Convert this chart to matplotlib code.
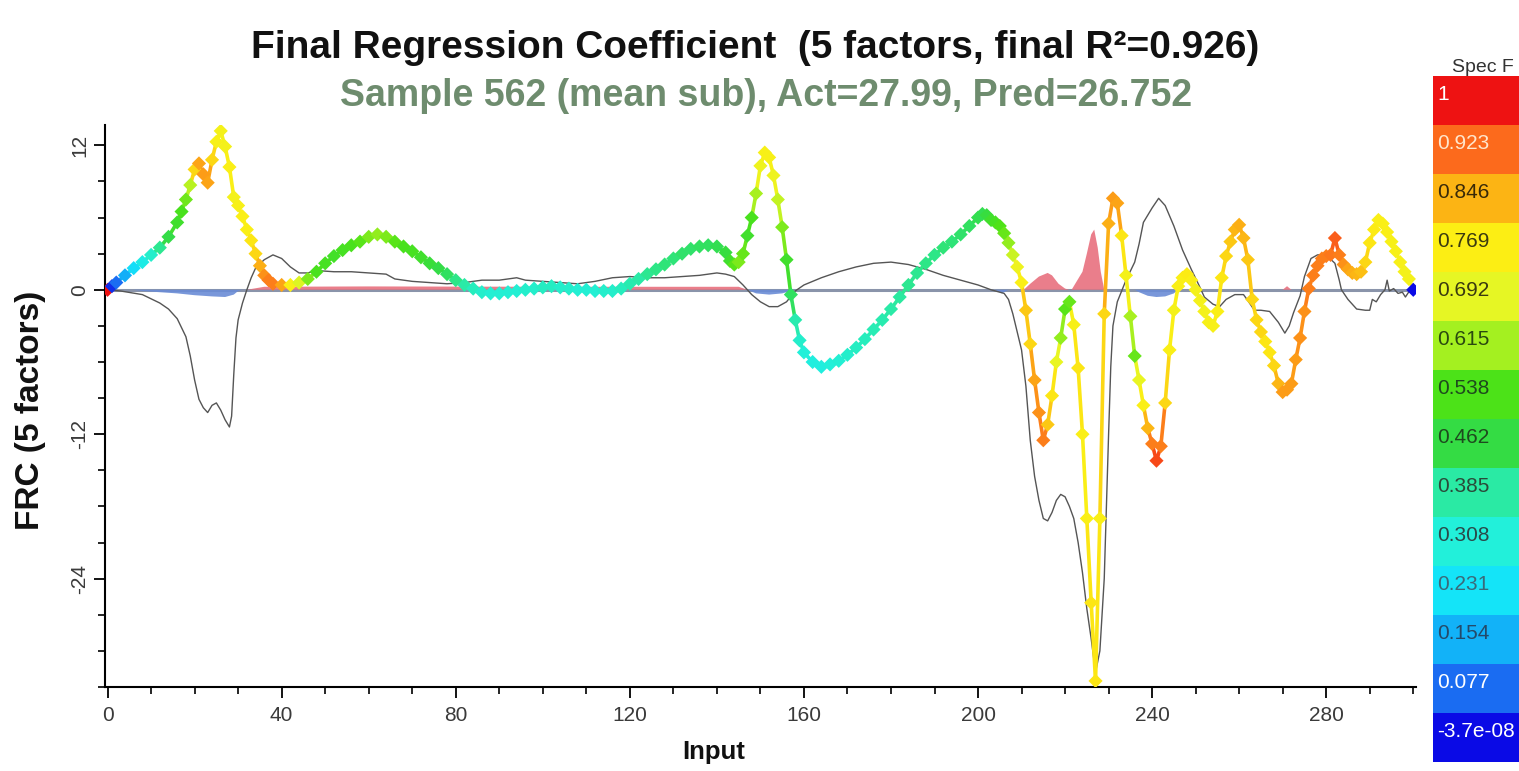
import matplotlib.pyplot as plt
import numpy as np
from matplotlib.collections import LineCollection
from matplotlib.colors import LinearSegmentedColormap

plt.rcParams['font.family'] = ['Liberation Sans', 'DejaVu Sans']
plt.rcParams['axes.unicode_minus'] = False

# Coefficient de régression final (courbe colorée par Spec F)
frc_x = [0, 1, 2, 4, 6, 8, 10, 12, 14, 16, 17, 18, 19, 20, 21, 22, 23, 24, 25, 26,
         27, 28, 29, 30, 31, 32, 33, 34, 35, 36, 37, 38, 40, 42, 44, 46, 48, 50, 52, 54,
         56, 58, 60, 62, 64, 66, 68, 70, 72, 74, 76, 78, 80, 82, 84, 86, 88, 90, 92, 94,
         96, 98, 100, 102, 104, 106, 108, 110, 112, 114, 116, 118, 120, 122, 124, 126, 128, 130, 132, 134,
         136, 138, 140, 142, 143, 144, 145, 146, 147, 148, 149, 150, 151, 152, 153, 154, 155, 156, 157, 158,
         159, 160, 162, 164, 166, 168, 170, 172, 174, 176, 178, 180, 182, 184, 186, 188, 190, 192, 194, 196,
         198, 200, 201, 202, 203, 204, 205, 206, 207, 208, 209, 210, 211, 212, 213, 214, 215, 216, 217, 218,
         219, 220, 221, 222, 223, 224, 225, 226, 227, 228, 229, 230, 231, 232, 233, 234, 235, 236, 237, 238,
         239, 240, 241, 242, 243, 244, 245, 246, 247, 248, 249, 250, 251, 252, 253, 254, 255, 256, 257, 258,
         259, 260, 261, 262, 263, 264, 265, 266, 267, 268, 269, 270, 271, 272, 273, 274, 275, 276, 277, 278,
         279, 280, 281, 282, 283, 284, 285, 286, 287, 288, 289, 290, 291, 292, 293, 294, 295, 296, 297, 298,
         299, 300]
frc_y = [0.0, 0.3, 0.6, 1.2, 1.8, 2.3, 2.9, 3.5, 4.4, 5.6, 6.5, 7.5, 8.7, 10.0, 10.5, 9.6, 8.9, 10.8, 12.3, 13.2,
         11.9, 10.2, 7.7, 7.0, 6.1, 5.0, 4.1, 3.0, 2.0, 1.2, 0.8, 0.5, 0.4, 0.4, 0.6, 0.9, 1.5, 2.2, 2.8, 3.3,
         3.7, 4.0, 4.4, 4.6, 4.4, 4.0, 3.6, 3.2, 2.7, 2.2, 1.8, 1.3, 0.8, 0.4, 0.1, -0.2, -0.3, -0.3, -0.2, -0.1,
         0.0, 0.1, 0.2, 0.3, 0.2, 0.1, 0.0, 0.0, -0.1, -0.1, -0.1, 0.1, 0.5, 0.9, 1.3, 1.7, 2.1, 2.6, 3.0, 3.4,
         3.6, 3.7, 3.6, 3.1, 2.4, 2.1, 2.3, 3.0, 4.5, 6.0, 8.0, 10.3, 11.4, 11.0, 9.5, 7.5, 5.2, 2.5, -0.4, -2.5,
         -4.2, -5.2, -6.0, -6.4, -6.2, -5.9, -5.4, -4.8, -4.1, -3.3, -2.5, -1.6, -0.6, 0.4, 1.4, 2.2, 2.9, 3.5, 4.0, 4.6,
         5.3, 6.0, 6.3, 6.2, 5.8, 5.6, 5.3, 4.7, 3.9, 2.9, 1.9, 0.6, -1.7, -4.5, -7.5, -10.2, -12.5, -11.2, -8.8, -6.0,
         -4.0, -1.6, -1.0, -2.9, -6.5, -12.0, -19.0, -26.0, -32.5, -19.0, -2.0, 5.5, 7.6, 7.2, 4.5, 1.2, -2.2, -5.5, -7.5, -9.6,
         -11.5, -12.8, -14.2, -13.0, -9.4, -5.0, -1.7, 0.3, 1.0, 1.3, 0.8, 0.0, -0.9, -1.8, -2.7, -3.0, -1.8, 1.0, 2.8, 4.0,
         5.0, 5.4, 4.3, 2.5, -0.8, -2.5, -3.5, -4.3, -5.2, -6.3, -7.8, -8.5, -8.3, -7.8, -5.8, -4.0, -1.8, 0.1, 1.2, 2.0,
         2.6, 2.8, 2.9, 4.3, 2.9, 2.1, 1.7, 1.4, 1.3, 1.5, 2.3, 3.9, 5.0, 5.8, 5.5, 4.8, 4.0, 3.2, 2.3, 1.5,
         0.9, 0.0]
spec_f = [1.0, 0.03, 0.08, 0.15, 0.22, 0.28, 0.33, 0.4, 0.46, 0.5, 0.53, 0.57, 0.64, 0.8, 0.86, 0.87, 0.86, 0.8, 0.75, 0.74,
          0.74, 0.76, 0.74, 0.75, 0.76, 0.76, 0.78, 0.8, 0.85, 0.88, 0.9, 0.9, 0.86, 0.76, 0.68, 0.58, 0.53, 0.52, 0.51, 0.52,
          0.53, 0.55, 0.58, 0.6, 0.58, 0.55, 0.53, 0.52, 0.5, 0.48, 0.46, 0.44, 0.41, 0.38, 0.35, 0.33, 0.32, 0.32, 0.32, 0.32,
          0.33, 0.33, 0.34, 0.34, 0.33, 0.33, 0.32, 0.32, 0.32, 0.33, 0.33, 0.35, 0.37, 0.38, 0.4, 0.41, 0.42, 0.42, 0.43, 0.43,
          0.44, 0.44, 0.45, 0.47, 0.5, 0.55, 0.58, 0.56, 0.5, 0.53, 0.62, 0.72, 0.75, 0.75, 0.72, 0.65, 0.58, 0.5, 0.44, 0.37,
          0.33, 0.31, 0.3, 0.3, 0.31, 0.32, 0.33, 0.34, 0.35, 0.36, 0.37, 0.38, 0.39, 0.4, 0.4, 0.41, 0.41, 0.42, 0.42, 0.43,
          0.44, 0.45, 0.45, 0.47, 0.5, 0.52, 0.54, 0.56, 0.6, 0.66, 0.72, 0.76, 0.82, 0.8, 0.86, 0.88, 0.9, 0.82, 0.78, 0.7,
          0.6, 0.55, 0.56, 0.75, 0.78, 0.76, 0.76, 0.78, 0.78, 0.76, 0.8, 0.85, 0.87, 0.86, 0.78, 0.74, 0.62, 0.56, 0.7, 0.76,
          0.84, 0.9, 0.95, 0.9, 0.8, 0.76, 0.74, 0.76, 0.76, 0.77, 0.76, 0.74, 0.74, 0.74, 0.75, 0.75, 0.76, 0.78, 0.8, 0.82,
          0.84, 0.85, 0.84, 0.82, 0.8, 0.8, 0.8, 0.78, 0.78, 0.8, 0.84, 0.87, 0.87, 0.87, 0.87, 0.88, 0.88, 0.9, 0.9, 0.9,
          0.9, 0.9, 0.91, 0.93, 0.9, 0.88, 0.86, 0.85, 0.84, 0.83, 0.8, 0.78, 0.77, 0.76, 0.76, 0.76, 0.75, 0.75, 0.75, 0.74,
          0.74, 0.0]

# Spectre de l'échantillon 562 (moyenne soustraite)
sample_x = [0, 3, 8, 12, 14, 16, 18, 19, 20, 21, 22, 23, 24, 25, 26, 27, 28, 28.5, 29, 29.5,
            30, 31, 32, 33, 34, 36, 38, 40, 42, 44, 46, 48, 52, 56, 60, 64, 66, 70, 74, 78,
            82, 86, 90, 94, 96, 100, 104, 108, 112, 116, 120, 124, 128, 132, 136, 140, 142, 144, 146, 148,
            150, 152, 154, 156, 158, 160, 164, 168, 172, 176, 180, 184, 188, 192, 196, 200, 203, 206, 207, 208,
            209, 210, 211, 212, 213, 214, 215, 216, 217, 218, 219, 220, 221, 222, 223, 224, 225, 226, 227, 228,
            229, 229.5, 230, 230.5, 231, 232, 234, 236, 237, 238, 240, 241.5, 243, 245, 247, 249, 251, 252, 254, 255.5,
            257, 259, 261, 262, 263.5, 265, 267, 269, 270.5, 271.5, 272.5, 274, 275, 276.5, 278, 280, 282, 283, 283.5, 285,
            287, 289, 290, 290.6, 291.5, 292.5, 293.5, 294, 294.5, 295.5, 296.5, 297.5, 298.2, 299.3]
sample_y = [0.0, -0.1, -0.4, -1.1, -1.6, -2.4, -3.9, -5.5, -7.5, -9.1, -9.8, -10.2, -9.6, -9.4, -10.0, -10.8, -11.4, -10.5, -7.0, -4.0,
            -2.5, -1.1, 0.0, 1.0, 1.8, 2.5, 2.9, 2.6, 1.9, 1.4, 1.4, 1.6, 1.5, 1.5, 1.4, 1.3, 0.9, 0.7, 0.6, 0.5,
            0.6, 0.8, 0.8, 1.0, 0.8, 0.7, 0.6, 0.5, 0.7, 1.0, 1.1, 1.0, 1.0, 1.1, 1.2, 1.4, 1.3, 1.1, 0.4, -0.4,
            -1.0, -1.4, -1.4, -1.0, -0.1, 0.4, 1.0, 1.5, 1.9, 2.2, 2.3, 2.1, 1.7, 1.2, 0.8, 0.4, 0.0, -0.3, -0.8, -2.0,
            -3.5, -5.0, -8.0, -12.5, -15.5, -17.5, -19.0, -19.2, -18.5, -17.5, -17.0, -17.2, -18.0, -19.0, -21.0, -23.5, -26.5, -29.0, -31.8, -30.0,
            -24.0, -18.0, -12.0, -6.4, -3.0, -1.0, 0.8, 2.3, 3.8, 5.6, 6.8, 7.6, 7.0, 5.3, 3.3, 1.7, 0.2, -0.6, -1.2, -1.4,
            -0.8, -0.4, -0.4, -0.9, -1.7, -1.7, -1.8, -2.7, -3.6, -3.0, -1.9, -0.5, 1.1, 2.6, 2.9, 2.9, 2.2, 0.8, 0.0, -0.8,
            -1.6, -1.7, -1.7, -0.8, -1.0, -0.4, 0.0, 0.8, -0.1, 0.1, -0.3, -0.2, -0.6, 0.0]

# Contribution (coefficient x échantillon)
contrib_x = [0, 6, 8, 12, 16, 20, 24, 27, 29, 30, 31, 32, 36, 60, 100, 145, 147, 149, 152, 155,
             158, 204, 205.5, 207, 210.5, 212, 214, 216, 217, 218.5, 220, 221, 221.5, 222.5, 224, 225, 226, 226.7, 227.5, 228.2,
             229, 236, 237, 239, 241, 243, 245, 246, 270, 271, 272, 300]
contrib_y = [0, 0, -0.1, -0.2, -0.3, -0.45, -0.55, -0.6, -0.4, -0.1, 0, 0, 0.25, 0.28, 0.25, 0.25, 0, -0.3, -0.4, -0.3,
             0, 0, -0.3, 0, 0, 0.5, 1.1, 1.4, 1.2, 0.5, 0.1, 0, 0, 0.6, 1.5, 3.0, 4.6, 5.0, 3.5, 1.5,
             0, 0, -0.2, -0.5, -0.6, -0.55, -0.3, 0, 0, 0.3, 0, 0]

# Légende Spec F
cbar_labels = ['-3.7e-08', '0.077', '0.154', '0.231', '0.308', '0.385', '0.462',
               '0.538', '0.615', '0.692', '0.769', '0.846', '0.923', '1']
cbar_colors = ['#0a0ae6', '#1a6cf2', '#12b2f8', '#14e4f8', '#22f0da', '#2aeaa4', '#34dc44',
               '#4ce218', '#a4f020', '#e6f624', '#fcee14', '#fcb414', '#fc6a1c', '#ee1212']
cbar_text = ['white', 'white', '#244a6a', '#3a6a7a', '#2a4a4a', '#2a4a3a', '#1e4a1e',
             '#1e4a1e', '#2a4a10', '#3a3a10', '#3a3a10', '#3a2a08', '#ffe6cc', 'white']

cmap = LinearSegmentedColormap.from_list('specf', list(zip(np.linspace(0, 1, 14), cbar_colors)))

fig = plt.figure(figsize=(15.19, 7.71), dpi=100)
ax = fig.add_axes([0.0691, 0.109, 0.863, 0.729])

# ligne de base + contributions
ax.axhline(0, color='#8a94aa', lw=2.2, zorder=1)
cx = np.array(contrib_x)
cy = np.array(contrib_y)
ax.fill_between(cx, cy, 0, where=cy >= 0, interpolate=True, color='#e8707e', alpha=0.9, lw=0, zorder=2)
ax.fill_between(cx, cy, 0, where=cy <= 0, interpolate=True, color='#6a8cd6', alpha=0.9, lw=0, zorder=2)

# spectre échantillon
ax.plot(sample_x, sample_y, color='#555555', lw=1.0, zorder=3)

# courbe FRC colorée
x = np.array(frc_x)
y = np.array(frc_y)
c = np.array(spec_f)
segs = np.stack([np.column_stack([x[:-1], y[:-1]]), np.column_stack([x[1:], y[1:]])], axis=1)
seg_c = np.maximum(c[:-1], c[1:])
seg_c[0] = c[1]
seg_c[-1] = c[-2]
lc = LineCollection(segs, colors=cmap(seg_c), linewidths=2.6, zorder=4)
ax.add_collection(lc)
ax.scatter(x, y, c=cmap(c), marker='D', s=52, edgecolors='none', zorder=5)

ax.set_xlim(-0.6, 300.6)
ax.set_ylim(-33, 13.7)
ax.set_xticks(range(0, 281, 40))
ax.set_xticks(range(0, 301, 10), minor=True)
ax.set_yticks([-24, -12, 0, 12])
ax.set_yticks(range(-33, 13, 3), minor=True)
ax.spines['top'].set_visible(False)
ax.spines['right'].set_visible(False)
ax.spines['left'].set_linewidth(1.5)
ax.spines['bottom'].set_linewidth(1.5)
ax.tick_params(which='major', direction='out', length=8, width=1.3, labelsize=15, labelcolor='#3a3a3a')
ax.tick_params(which='minor', direction='out', length=5, width=1.2)
ax.tick_params(axis='x', pad=6)
for lab in ax.get_yticklabels():
    lab.set_rotation(90)
    lab.set_va('center')

fig.text(0.497, 0.938, 'Final Regression Coefficient  (5 factors, final R²=0.926)',
         ha='center', va='center', fontsize=28, fontweight='bold', color='#111111')
fig.text(0.504, 0.876, 'Sample 562 (mean sub), Act=27.99, Pred=26.752',
         ha='center', va='center', fontsize=27, fontweight='bold', color='#6e8c6e')
fig.text(0.0198, 0.468, 'FRC (5 factors)', rotation=90, ha='center', va='center',
         fontsize=24, fontweight='bold', color='#111111')
fig.text(0.47, 0.024, 'Input', ha='center', va='center', fontsize=18.5, fontweight='bold', color='#111111')

# barre de couleur discrète
cax = fig.add_axes([0.9434, 0.0117, 0.0566, 0.8898])
cax.barh(range(14), 1, height=1, color=cbar_colors, align='edge')
for i, lab in enumerate(cbar_labels):
    cax.text(0.05, i + 0.62, lab, ha='left', va='center', fontsize=15, color=cbar_text[i], clip_on=False)
cax.set_xlim(0, 1)
cax.set_ylim(0, 14)
cax.axis('off')
fig.text(0.956, 0.912, 'Spec F', ha='left', va='center', fontsize=14, color='#333333')

plt.savefig('out.png', dpi=100)
